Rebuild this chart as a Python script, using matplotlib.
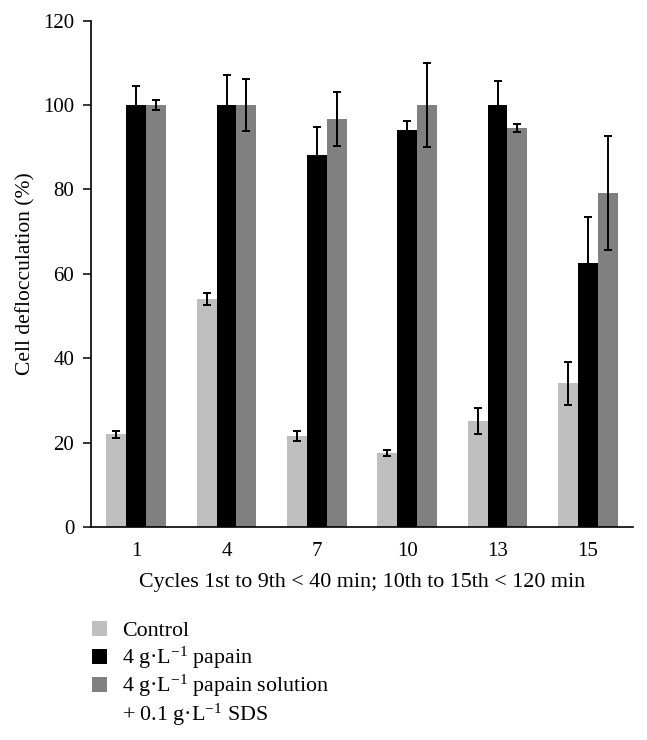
import matplotlib
matplotlib.use("Agg")
import matplotlib.pyplot as plt
from matplotlib.patches import Rectangle
import numpy as np

plt.rcParams['font.family'] = ['Liberation Serif', 'DejaVu Serif']
plt.rcParams['mathtext.fontset'] = 'custom'
plt.rcParams['mathtext.rm'] = 'Liberation Serif'
plt.rcParams['mathtext.it'] = 'Liberation Serif:italic'
plt.rcParams['mathtext.bf'] = 'Liberation Serif:bold'

# ---- data ----
cycles = ["1", "4", "7", "10", "13", "15"]
control = [22.0, 54.0, 21.6, 17.5, 25.1, 34.0]
control_err = [0.85, 1.4, 1.2, 0.7, 3.0, 5.2]
papain = [100.0, 100.0, 88.2, 94.0, 100.0, 62.5]
papain_err = [4.6, 7.1, 6.6, 2.2, 5.7, 10.9]
papain_sds = [100.0, 100.0, 96.7, 100.0, 94.5, 79.2]
papain_sds_err = [1.2, 6.2, 6.4, 10.0, 1.0, 13.5]
series_labels = ["Control", "4 g\u00b7L$^{-1}$ papain", "4 g\u00b7L$^{-1}$ papain solution"]
label_extra = "+ 0.1 g\u00b7L$^{-1}$ SDS"
colors = ["#bfbfbf", "#000000", "#808080"]
yticks = [0, 20, 40, 60, 80, 100, 120]
xlabel = "Cycles 1st to 9th < 40 min; 10th to 15th < 120 min"
ylabel = "Cell deflocculation (%)"

W, H = 647, 740
fig = plt.figure(figsize=(W / 100, H / 100), dpi=100)
ax = fig.add_axes([91 / W, 1 - 527 / H, (633 - 91) / W, (527 - 20.5) / H])

x = np.arange(len(cycles))
bw = 0.22
for i, (vals, errs) in enumerate([(control, control_err), (papain, papain_err), (papain_sds, papain_sds_err)]):
    ax.bar(x + (i - 1) * bw, vals, width=bw, color=colors[i], zorder=2)
    ax.errorbar(x + (i - 1) * bw, vals, yerr=errs, fmt='none', ecolor='black',
                elinewidth=1.4, capsize=2.6, capthick=1.4, zorder=3)

ax.set_xlim(-0.5, len(cycles) - 0.5)
ax.set_ylim(0, 120)
ax.set_yticks(yticks)
ax.set_xticks(x)
ax.set_xticklabels(cycles)
for s in ['top', 'right']:
    ax.spines[s].set_visible(False)
for s in ['left', 'bottom']:
    ax.spines[s].set_linewidth(1.2)
ax.tick_params(axis='y', direction='out', length=6, width=1.1, pad=6, labelsize=15)
ax.tick_params(axis='x', length=0, pad=11, labelsize=15)
ax.set_ylabel(ylabel, fontsize=15.5)
ax.yaxis.set_label_coords(-0.103, 0.5)
ax.set_xlabel(xlabel, fontsize=15.8)
ax.xaxis.set_label_coords(0.5, -0.09)

# legend (manual, figure pixel coordinates)
sq = 15
rows_center = [628, 656.3, 684.6]
for i, lab in enumerate(series_labels):
    yc = rows_center[i]
    fig.add_artist(Rectangle((92 / W, 1 - (yc + sq / 2) / H), sq / W, sq / H,
                             transform=fig.transFigure, facecolor=colors[i], edgecolor='none'))
    fig.text(122 / W, 1 - (yc + 7.5) / H, lab, fontsize=15.8, va='baseline', ha='left')
fig.text(122 / W, 1 - (684.6 + 7.5 + 28.3) / H, label_extra, fontsize=15.8, va='baseline', ha='left')

fig.savefig("out.png", dpi=100)
